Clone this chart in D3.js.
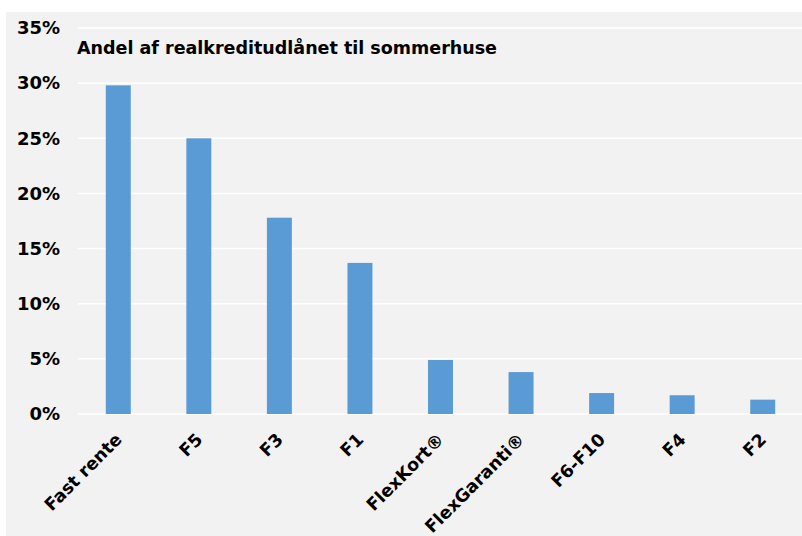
<!DOCTYPE html>
<html>
<head>
<meta charset="utf-8">
<script src="https://cdn.jsdelivr.net/npm/d3@7"></script>
<style>
  body { margin: 0; background: #fff; }
  svg { display: block; font-family: Verdana, "DejaVu Sans", sans-serif; }
</style>
</head>
<body>
<div id="graph"></div>
<script>
// data
var categories = ["Fast rente", "F5", "F3", "F1", "FlexKort\u00ae", "FlexGaranti\u00ae", "F6-F10", "F4", "F2"];
var shares = [29.8, 25.0, 17.8, 13.7, 4.9, 3.8, 1.9, 1.7, 1.3];
var yTicks = [0, 5, 10, 15, 20, 25, 30, 35];
var title = "Andel af realkreditudl\u00e5net til sommerhuse";

var W = 802, H = 536;
var vis = d3.select('#graph').append('svg')
  .attr("width", W)
  .attr("height", H);

// grey panel
vis.append("rect")
  .attr("x", 6).attr("y", 12)
  .attr("width", W - 6).attr("height", H - 12)
  .attr("fill", "#f2f2f2");

var x = d3.scaleBand()
  .domain(categories)
  .range([78, 803])
  .paddingInner(0.69)
  .paddingOuter(0.345);

var y = d3.scaleLinear()
  .domain([0, 35])
  .range([414, 28]);

// gridlines
vis.selectAll(".grid")
  .data(yTicks)
  .enter().append("line")
  .attr("class", "grid")
  .attr("x1", 78).attr("x2", W)
  .attr("y1", function(d) { return y(d); })
  .attr("y2", function(d) { return y(d); })
  .style("stroke", "#ffffff")
  .style("stroke-width", 1.5);

// y labels
vis.selectAll(".ylab")
  .data(yTicks)
  .enter().append("text")
  .attr("class", "ylab")
  .attr("x", 60)
  .attr("y", function(d) { return y(d); })
  .attr("dy", "0.35em")
  .attr("text-anchor", "end")
  .style("font-size", "18px")
  .style("font-weight", "bold")
  .attr("fill", "#000")
  .text(function(d) { return d + "%"; });

// bars
vis.selectAll(".bar")
  .data(shares)
  .enter().append("rect")
  .attr("class", "bar")
  .attr("x", function(d, i) { return x(categories[i]); })
  .attr("width", x.bandwidth())
  .attr("y", function(d) { return y(d); })
  .attr("height", function(d) { return y(0) - y(d); })
  .attr("fill", "#5b9bd5");

// x labels, rotated
vis.selectAll(".xlab")
  .data(categories)
  .enter().append("text")
  .attr("class", "xlab")
  .attr("transform", function(d) {
    return "translate(" + (x(d) + x.bandwidth() / 2 - 4) + "," + 432 + ") rotate(-45)";
  })
  .attr("text-anchor", "end")
  .attr("dy", "0.7em")
  .style("font-size", "17.5px")
  .style("font-weight", "bold")
  .attr("fill", "#000")
  .text(function(d) { return d; });

// title
vis.append("text")
  .attr("x", 77)
  .attr("y", 54)
  .style("font-size", "17.5px")
  .style("font-weight", "bold")
  .attr("fill", "#000")
  .text(title);
</script>
</body>
</html>
